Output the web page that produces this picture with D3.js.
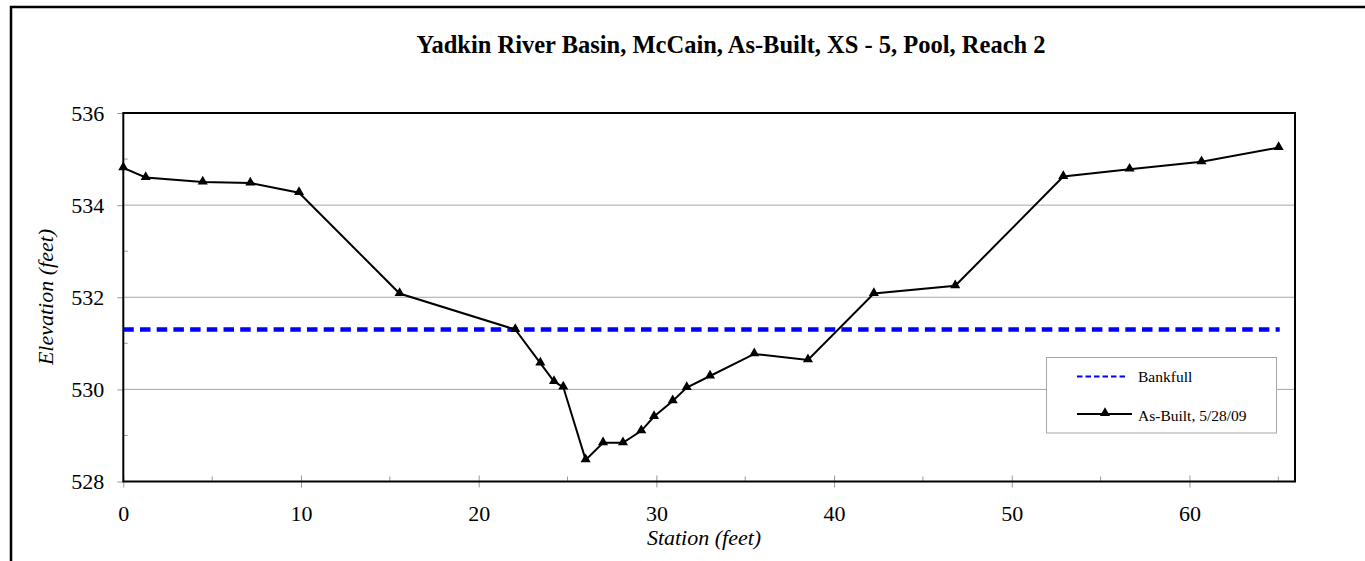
<!DOCTYPE html>
<html>
<head>
<meta charset="utf-8">
<script src="https://cdn.jsdelivr.net/npm/d3@7"></script>
<style>
  html, body { margin: 0; padding: 0; background: #fff; }
  svg { display: block; font-family: "Liberation Serif", "Times New Roman", serif; }
</style>
</head>
<body>
<svg id="chart" width="1365" height="561"></svg>
<script>
// Cross-section survey: station (ft) vs elevation (ft)
const stations   = [0, 1.26, 4.47, 7.15, 9.89, 15.55, 22.06, 23.47, 24.24, 24.76, 26.02, 27.0, 28.12, 29.15, 29.87, 30.92, 31.71, 33.02, 35.51, 38.53, 42.24, 46.82, 52.90, 56.63, 60.68, 65.02];
const elevations = [534.81, 534.60, 534.50, 534.48, 534.27, 532.08, 531.30, 530.57, 530.17, 530.05, 528.47, 528.84, 528.84, 529.10, 529.41, 529.75, 530.04, 530.29, 530.77, 530.64, 532.08, 532.25, 534.62, 534.78, 534.94, 535.25];
const bankfullStations = [0, 65.08];
const bankfullElev = 531.3;
const xTicks = [0, 10, 20, 30, 40, 50, 60];
const yTicks = [528, 530, 532, 534, 536];
const xMinorTicks = [5, 15, 25, 35, 45, 55, 65];
const yMinorTicks = [529, 531, 533, 535];
const seriesNames = ["Bankfull", "As-Built, 5/28/09"];
const titleText = "Yadkin River Basin, McCain, As-Built, XS - 5, Pool, Reach 2";

const svg = d3.select("#chart");
const plotL = 123.3, plotR = 1295, plotT = 113, plotB = 481.5;
const serif = "Liberation Serif, Times New Roman, serif";

const x = d3.scaleLinear().domain([0, 65.94]).range([plotL, plotR]);
const y = d3.scaleLinear().domain([528, 536]).range([plotB, plotT]);

// outer frame (runs off the right and bottom)
svg.append("path")
  .attr("d", "M11,570 L11,7 L1375,7")
  .attr("fill", "none").attr("stroke", "#000").attr("stroke-width", 2.5);

// horizontal gridlines
svg.append("g").selectAll("line").data(yTicks.slice(1, -1)).join("line")
  .attr("x1", plotL).attr("x2", plotR)
  .attr("y1", d => y(d)).attr("y2", d => y(d))
  .attr("stroke", "#a6a6a6").attr("stroke-width", 1);

// y axis
const yAxis = svg.append("g").attr("transform", `translate(${plotL},0)`)
  .call(d3.axisLeft(y).tickValues(yTicks).tickSize(6).tickPadding(13).tickFormat(d3.format("d")));
yAxis.select(".domain").remove();
yAxis.selectAll(".tick line").attr("stroke", "#999");
yAxis.selectAll("text").attr("font-size", 22).attr("fill", "#000").attr("font-family", serif);
svg.append("g").selectAll("line").data(yMinorTicks).join("line")
  .attr("x1", plotL).attr("x2", plotL + 4.5)
  .attr("y1", d => y(d)).attr("y2", d => y(d))
  .attr("stroke", "#999");

// x axis
const xAxis = svg.append("g").attr("transform", `translate(0,${plotB})`)
  .call(d3.axisBottom(x).tickValues(xTicks).tickSize(6).tickPadding(18).tickFormat(d3.format("d")));
xAxis.select(".domain").remove();
xAxis.selectAll(".tick line").attr("y1", -6).attr("stroke", "#999");
xAxis.selectAll("text").attr("font-size", 22).attr("fill", "#000").attr("font-family", serif);
svg.append("g").selectAll("line").data(xMinorTicks).join("line")
  .attr("x1", d => x(d)).attr("x2", d => x(d))
  .attr("y1", plotB - 5).attr("y2", plotB)
  .attr("stroke", "#999");

// plot frame
svg.append("rect")
  .attr("x", plotL).attr("y", plotT).attr("width", plotR - plotL).attr("height", plotB - plotT)
  .attr("fill", "none").attr("stroke", "#000").attr("stroke-width", 2);

// bankfull line
svg.append("line")
  .attr("x1", x(bankfullStations[0])).attr("x2", x(bankfullStations[1]))
  .attr("y1", y(bankfullElev)).attr("y2", y(bankfullElev))
  .attr("stroke", "#0000ff").attr("stroke-width", 4.5)
  .attr("stroke-dasharray", "10.5,6.2");

// surveyed profile
const pts = stations.map((s, i) => [s, elevations[i]]);
svg.append("path")
  .datum(pts)
  .attr("fill", "none").attr("stroke", "#000").attr("stroke-width", 2)
  .attr("d", d3.line().x(d => x(d[0])).y(d => y(d[1])));

const tri = d3.symbol().type(d3.symbolTriangle).size(44);
svg.append("g").selectAll("path").data(pts).join("path")
  .attr("d", tri)
  .attr("transform", d => `translate(${x(d[0])},${y(d[1]) - 0.5})`)
  .attr("fill", "#000");

// title
svg.append("text")
  .attr("x", 731).attr("y", 53)
  .attr("text-anchor", "middle")
  .attr("font-size", 24.5).attr("font-weight", "bold")
  .text(titleText);

// axis titles
svg.append("text")
  .attr("x", 704).attr("y", 545)
  .attr("text-anchor", "middle")
  .attr("font-size", 22).attr("font-style", "italic")
  .text("Station (feet)");
svg.append("text")
  .attr("transform", "translate(45,297) rotate(-90)")
  .attr("text-anchor", "middle")
  .attr("dy", "0.35em")
  .attr("font-size", 22).attr("font-style", "italic")
  .text("Elevation (feet)");

// legend
const lg = svg.append("g");
lg.append("rect")
  .attr("x", 1046.5).attr("y", 357.5).attr("width", 230).attr("height", 75.5)
  .attr("fill", "#fff").attr("stroke", "#a6a6a6").attr("stroke-width", 1);
lg.append("line")
  .attr("x1", 1077).attr("x2", 1128).attr("y1", 376.5).attr("y2", 376.5)
  .attr("stroke", "#0000ff").attr("stroke-width", 2.2)
  .attr("stroke-dasharray", "5.5,3");
lg.append("line")
  .attr("x1", 1077).attr("x2", 1132).attr("y1", 414).attr("y2", 414)
  .attr("stroke", "#000").attr("stroke-width", 2);
lg.append("path")
  .attr("d", tri)
  .attr("transform", "translate(1105,413)")
  .attr("fill", "#000");
lg.selectAll("text.lbl").data(seriesNames).join("text")
  .attr("class", "lbl")
  .attr("x", 1138).attr("y", (d, i) => i === 0 ? 382 : 420.5)
  .attr("font-size", 15.5)
  .text(d => d);
</script>
</body>
</html>
